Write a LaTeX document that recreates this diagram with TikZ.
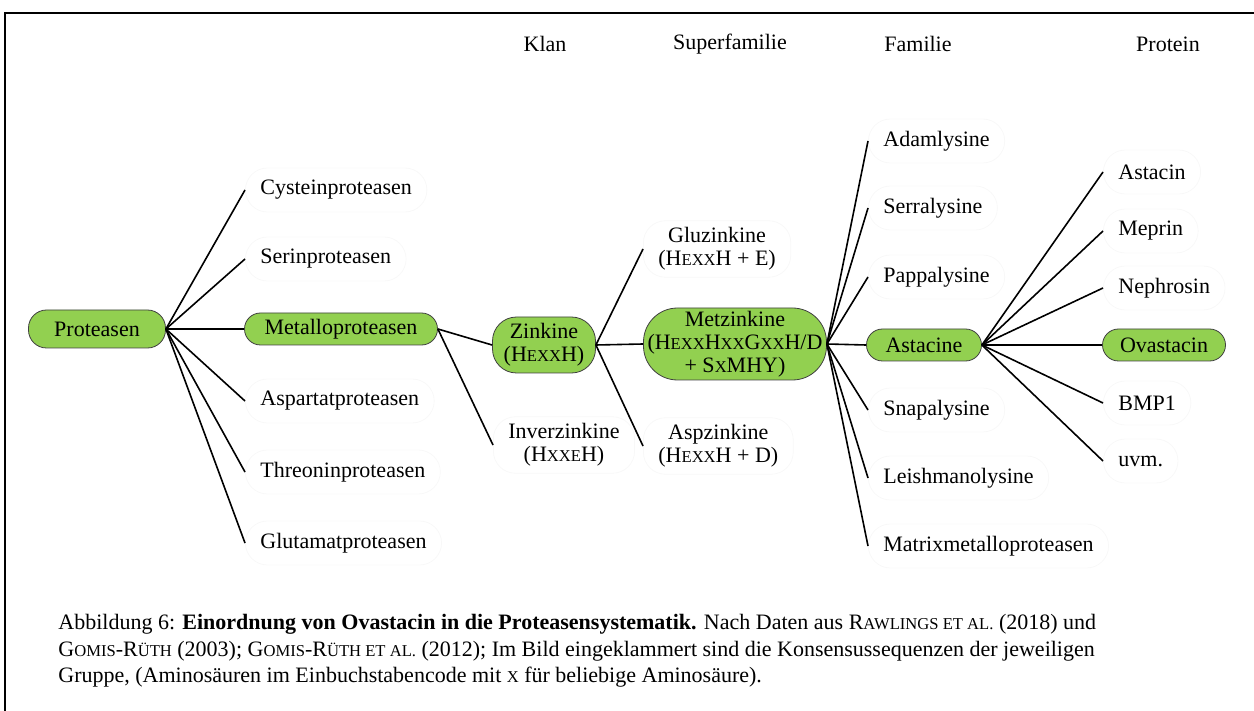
\documentclass[tikz,border=0pt]{standalone}
\usepackage{fontspec}
\setmainfont{Liberation Serif}
\usetikzlibrary{positioning}
\definecolor{zgreen}{RGB}{146,208,80}
\definecolor{faint}{RGB}{248,248,248}
\newcommand{\kap}[1]{{\fontsize{8.3}{10}\selectfont\MakeUppercase{#1}}}

\begin{document}
\begin{tikzpicture}[x=.5pt,y=-.5pt,
  every node/.style={font=\fontsize{11}{11.6}\selectfont},
  grp/.style={draw=black!75,fill=zgreen,inner sep=0pt,align=center},
  leaf/.style={draw=faint,rounded corners=11pt,anchor=west,inner xsep=7.5pt,minimum height=22pt,align=center},
  link/.style={line width=.8pt}]
\useasboundingbox (0,0) rectangle (1254,711);
\draw[line width=1pt] (5,711) |- (1254,13);
% column heads
\node (hklan) at (545,44) {Klan};
\node (hsup) at (730,44) {Superfamilie};
\node (hfam) at (918,44) {Familie};
\node (hprot) at (1168,44) {Protein};
% green path
\node[grp,rounded corners=9pt,minimum width=68.5pt,minimum height=19pt] (prot) at (97,329) {Proteasen};
\node[grp,rounded corners=8pt,minimum width=96.5pt,minimum height=16pt] (metallo) at (341,329) {Metalloproteasen};
\node[grp,rounded corners=12pt,minimum width=51.5pt,minimum height=28pt] (zink) at (544,345) {Zinkine\\(H\kap{exx}H)};
\node[grp,rounded corners=17pt,minimum width=91.5pt,minimum height=36pt] (metz) at (735,344) {Metzinkine\\(H\kap{exx}H\kap{xx}G\kap{xx}H/D\\+ S\kap{x}MHY)};
\node[grp,rounded corners=8pt,minimum width=57.5pt,minimum height=16pt] (astac) at (924,345) {Astacine};
\node[grp,rounded corners=8pt,minimum width=61.5pt,minimum height=16pt] (ovast) at (1164,345) {Ovastacin};
% leaves
\node[leaf] (cys) at (245,190) {Cysteinproteasen};
\node[leaf] (ser) at (245,259) {Serinproteasen};
\node[leaf] (asp) at (245,401) {Aspartatproteasen};
\node[leaf] (thr) at (245,472) {Threoninproteasen};
\node[leaf] (glut) at (245,543) {Glutamatproteasen};
\node[leaf] (inver) at (493,445) {Inverzinkine\\(H\kap{xxe}H)};
\node[leaf] (gluz) at (643,249) {Gluzinkine\\(H\kap{exx}H + E)};
\node[leaf] (aspz) at (643,446) {Aspzinkine\\(H\kap{exx}H + D)};
\node[leaf] (adam) at (868,141) {Adamlysine};
\node[leaf] (serr) at (868,208) {Serralysine};
\node[leaf] (papp) at (868,277) {Pappalysine};
\node[leaf] (snap) at (868,410) {Snapalysine};
\node[leaf] (leish) at (868,478) {Leishmanolysine};
\node[leaf] (mmp) at (868,546) {Matrixmetalloproteasen};
\node[leaf] (astn) at (1103,172) {Astacin};
\node[leaf] (mep) at (1103,231) {Meprin};
\node[leaf] (neph) at (1103,288) {Nephrosin};
\node[leaf] (bmp) at (1103,403) {BMP1};
\node[leaf] (uvm) at (1103,461) {uvm.};
% connectors
\foreach \n in {cys,ser,metallo,asp,thr,glut} \draw[link] (prot.east) -- (\n.west);
\foreach \n in {zink,inver} \draw[link] (metallo.east) -- (\n.west);
\foreach \n in {gluz,metz,aspz} \draw[link] (zink.east) -- (\n.west);
\foreach \n in {adam,serr,papp,astac,snap,leish,mmp} \draw[link] (metz.east) -- (\n.west);
\foreach \n in {astn,mep,neph,ovast,bmp,uvm} \draw[link] (astac.east) -- (\n.west);
% caption
\node[anchor=north west,align=left,inner sep=0pt,font=\fontsize{11}{13.2}\selectfont] (cap) at (58,614)
  {Abbildung 6: \textbf{Einordnung von Ovastacin in die Proteasensystematik.} Nach Daten aus R\kap{awlings et al.} (2018) und\\
   G\kap{omis}-R\kap{üth} (2003); G\kap{omis}-R\kap{üth et al.} (2012); Im Bild eingeklammert sind die Konsensussequenzen der jeweiligen\\
   Gruppe, (Aminosäuren im Einbuchstabencode mit \kap{x} für beliebige Aminosäure).};
\end{tikzpicture}
\end{document}
